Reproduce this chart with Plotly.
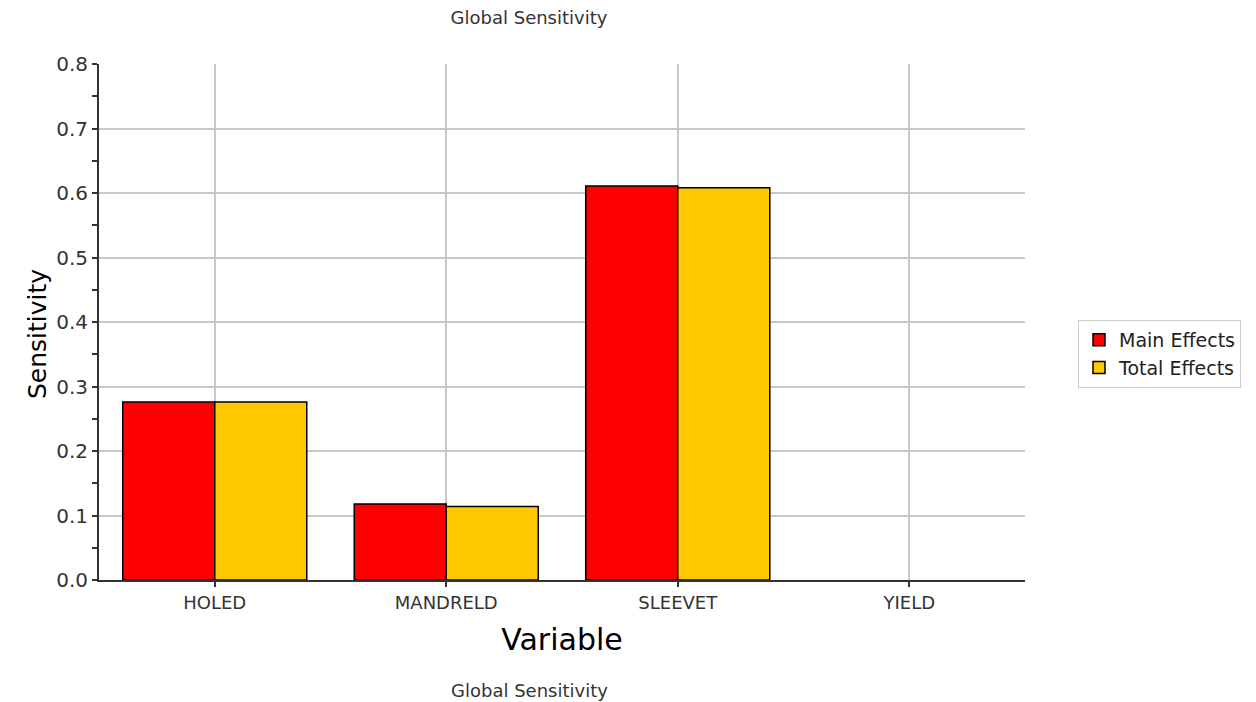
import plotly.graph_objects as go

categories = ["HOLED", "MANDRELD", "SLEEVET", "YIELD"]
main_effects = [0.276, 0.118, 0.611, 0.0]
total_effects = [0.276, 0.114, 0.608, 0.0]
y_ticks = [0.0, 0.1, 0.2, 0.3, 0.4, 0.5, 0.6, 0.7, 0.8]

FONT = "DejaVu Sans"
L, R, T, B = 99, 1025, 64, 580
PW, PH = R - L, B - T


def edge_widths(vals):
    return [1.5 if v > 0 else 0 for v in vals]


fig = go.Figure()
fig.add_trace(go.Bar(name="Main Effects", x=categories, y=main_effects,
                     marker=dict(color="#ff0000",
                                 line=dict(color="#000000", width=edge_widths(main_effects)))))
fig.add_trace(go.Bar(name="Total Effects", x=categories, y=total_effects,
                     marker=dict(color="#ffc800",
                                 line=dict(color="#000000", width=edge_widths(total_effects)))))

fig.update_layout(
    width=1256, height=702,
    margin=dict(l=L, r=1256 - R, t=T, b=702 - B),
    paper_bgcolor="white", plot_bgcolor="white",
    barmode="group", bargap=0.205, bargroupgap=0,
    font=dict(family=FONT, size=18, color="#333333"),
    title=dict(text="Global Sensitivity", x=529 / 1256, xanchor="center",
               y=1 - 18 / 702, yanchor="middle", font=dict(size=18, color="#333333")),
    legend=dict(x=(1078 - L) / PW, xanchor="left", y=(B - 354) / PH, yanchor="middle",
                bordercolor="#cccccc", borderwidth=1, bgcolor="white",
                font=dict(size=19, color="#222222"), tracegroupgap=0,
                itemwidth=30),
    xaxis=dict(
        showline=True, linecolor="#333333", linewidth=2,
        showgrid=True, gridcolor="#c8c8c8", gridwidth=1.5,
        ticks="outside", ticklen=5, tickcolor="#333333", tickwidth=2,
        tickfont=dict(size=18, color="#333333"),
        title=dict(text="Variable", font=dict(size=30, color="#000000"), standoff=17),
    ),
    yaxis=dict(
        range=[0, 0.8], tickvals=y_ticks, tickformat=".1f",
        showline=True, linecolor="#333333", linewidth=2,
        showgrid=True, gridcolor="#c8c8c8", gridwidth=1.5,
        ticks="outside", ticklen=5, tickcolor="#333333", tickwidth=2,
        tickfont=dict(size=20, color="#333333"),
        minor=dict(dtick=0.05, ticks="outside", ticklen=5, tickcolor="#333333",
                   tickwidth=2, showgrid=False),
        zeroline=False,
    ),
)

fig.add_annotation(text="Sensitivity", xref="paper", yref="paper",
                   x=-(L - 37) / PW, y=(B - 334) / PH, xanchor="center", yanchor="middle",
                   textangle=-90, showarrow=False,
                   font=dict(size=25, color="#000000"))

fig.add_annotation(text="Global Sensitivity", xref="paper", yref="paper",
                   x=(529 - L) / PW, y=-(690 - B) / PH, xanchor="center", yanchor="middle",
                   showarrow=False, font=dict(size=18, color="#333333"))

fig.write_html("out.html")
